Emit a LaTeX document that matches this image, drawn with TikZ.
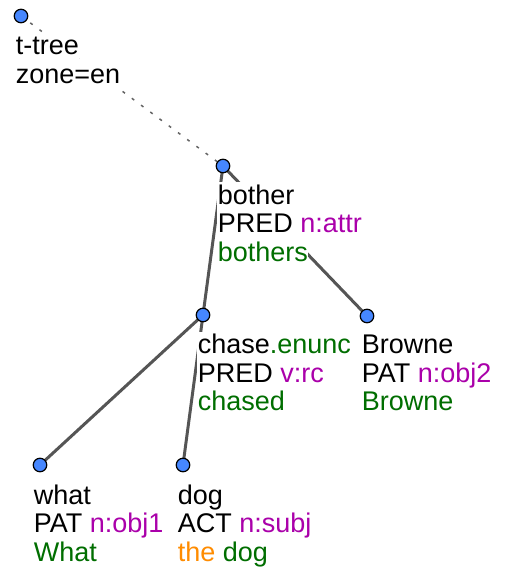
\documentclass[tikz,border=0pt]{standalone}
\usepackage{fontspec}
\setmainfont{Liberation Sans}
\usetikzlibrary{backgrounds}
\definecolor{nodeblue}{RGB}{70,135,255}
\definecolor{edgegray}{RGB}{85,85,85}
\definecolor{dotgray}{RGB}{100,100,100}
\definecolor{fpurple}{RGB}{170,0,170}
\definecolor{fgreen}{RGB}{0,110,0}
\definecolor{forange}{RGB}{255,140,0}
\tikzset{
  tnode/.style={circle, draw=black, line width=1.2pt, fill=nodeblue, minimum size=13.5pt, inner sep=0pt},
  tedge/.style={draw=edgegray, line width=3pt},
  dotedge/.style={draw=dotgray, line width=1.5pt, dash pattern=on 3pt off 8.5pt},
  lbl/.style={anchor=base west, fill=white, inner sep=0.6pt, text height=21pt, text depth=7.5pt,
    font=\fontsize{27}{28.5}\selectfont},
}
\begin{document}
\begin{tikzpicture}[x=1pt,y=-1pt]
\useasboundingbox (0,0) rectangle (505,573);
% tree nodes
\node[tnode] (root) at (21,16) {};
\node[tnode] (bother) at (223,166) {};
\node[tnode] (chase) at (203,315) {};
\node[tnode] (browne) at (367,316) {};
\node[tnode] (what) at (40,465) {};
\node[tnode] (dog) at (183,465) {};
% edges
\begin{scope}[on background layer]
\draw[dotedge] (root.center) -- (bother.center);
\draw[tedge] (bother.center) -- (chase.center);
\draw[tedge] (bother.center) -- (browne.center);
\draw[tedge] (chase.center) -- (what.center);
\draw[tedge] (chase.center) -- (dog.center);
\end{scope}
% labels
\node[lbl] (root-a) at (15,54.5) {t-tree};
\node[lbl] (root-b) at (15,83) {zone=en};

\node[lbl] (bother-a) at (217,204) {bother};
\node[lbl] (bother-b) at (217,232.5) {PRED \textcolor{fpurple}{n:attr}};
\node[lbl] (bother-c) at (217,261) {\textcolor{fgreen}{bothers}};

\node[lbl] (chase-a) at (197,353.5) {chase\textcolor{fgreen}{.enunc}};
\node[lbl] (chase-b) at (197,382) {PRED \textcolor{fpurple}{v:rc}};
\node[lbl] (chase-c) at (197,410.5) {\textcolor{fgreen}{chased}};

\node[lbl] (browne-a) at (361,353.5) {Browne};
\node[lbl] (browne-b) at (361,382) {PAT \textcolor{fpurple}{n:obj2}};
\node[lbl] (browne-c) at (361,410.5) {\textcolor{fgreen}{Browne}};

\node[lbl] (what-a) at (33,504) {what};
\node[lbl] (what-b) at (33,532.5) {PAT \textcolor{fpurple}{n:obj1}};
\node[lbl] (what-c) at (33,561) {\textcolor{fgreen}{What}};

\node[lbl] (dog-a) at (177,504) {dog};
\node[lbl] (dog-b) at (177,532.5) {ACT \textcolor{fpurple}{n:subj}};
\node[lbl] (dog-c) at (177,561) {\textcolor{forange}{the} \textcolor{fgreen}{dog}};
\end{tikzpicture}
\end{document}
